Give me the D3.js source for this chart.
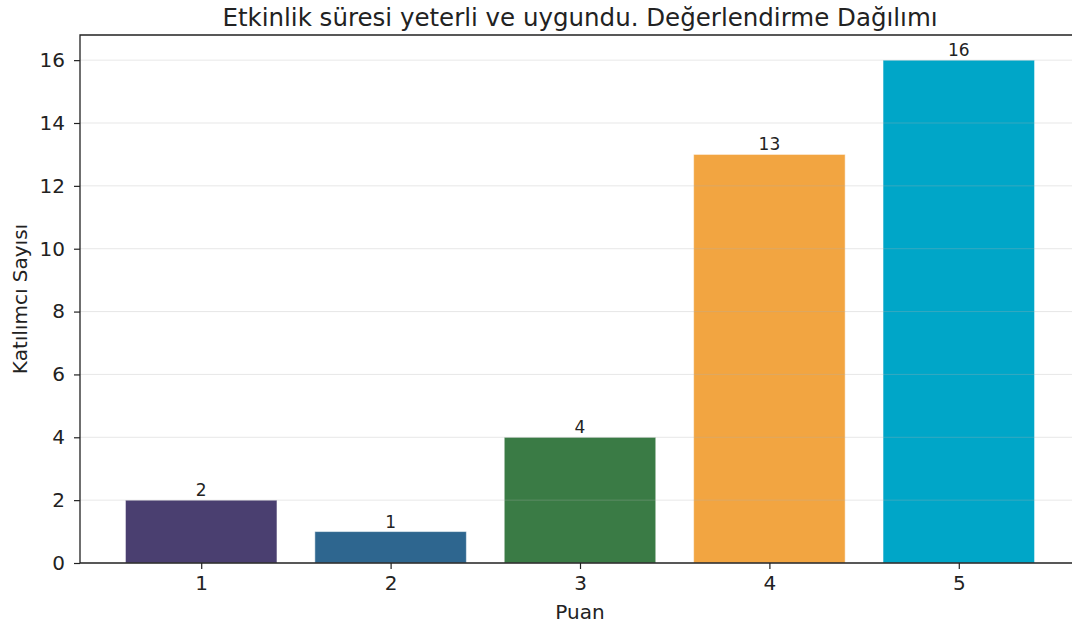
<!DOCTYPE html>
<html>
<head>
<meta charset="utf-8">
<script src="https://cdn.jsdelivr.net/npm/d3@7"></script>
<style>
  body { margin: 0; background: #fff; }
  svg { font-family: "DejaVu Sans", sans-serif; }
</style>
</head>
<body>
<div id="chart"></div>
<script>
// Data
const categories = ["1", "2", "3", "4", "5"];
const counts = [2, 1, 4, 13, 16];
const barColors = ["#4a3f70", "#2e668f", "#3a7b45", "#f2a541", "#00a6c8"];
const yTicks = [0, 2, 4, 6, 8, 10, 12, 14, 16];

const width = 1072;
const height = 627;
const margin = { left: 80, top: 35, right: -8, bottom: 64 };

const svg = d3.select("#chart").append("svg")
    .attr("width", width)
    .attr("height", height);

const plotRight = width - margin.right;
const plotBottom = height - margin.bottom;

const x = d3.scaleLinear()
    .domain([-0.64, categories.length - 1 + 0.64])
    .range([margin.left, plotRight]);

const y = d3.scaleLinear()
    .domain([0, d3.max(counts) * 1.05])
    .range([plotBottom, margin.top]);

const barW = x(0.8) - x(0);

// Bars
svg.append("g")
    .selectAll("rect")
    .data(counts)
    .join("rect")
    .attr("x", (d, i) => x(i) - barW / 2)
    .attr("y", d => y(d))
    .attr("width", barW)
    .attr("height", d => y(0) - y(d))
    .attr("fill", (d, i) => barColors[i])
    .attr("stroke", "#ffffff")
    .attr("stroke-opacity", 0.5)
    .attr("stroke-width", 1);

// Grid (drawn over bars, faint)
svg.append("g")
    .selectAll("line")
    .data(yTicks.filter(t => t > 0))
    .join("line")
    .attr("x1", margin.left)
    .attr("x2", plotRight)
    .attr("y1", d => y(d))
    .attr("y2", d => y(d))
    .attr("stroke", "#b0b0b0")
    .attr("stroke-opacity", 0.3)
    .attr("stroke-width", 1);

// Value labels
svg.append("g")
    .selectAll("text")
    .data(counts)
    .join("text")
    .attr("x", (d, i) => x(i))
    .attr("y", d => y(d) - 4)
    .attr("text-anchor", "middle")
    .attr("font-size", "17px")
    .attr("fill", "#222")
    .text(d => d);

// Axes
const yAxis = svg.append("g")
    .attr("transform", `translate(${margin.left},0)`)
    .call(d3.axisLeft(y).tickValues(yTicks).tickSize(6).tickPadding(9));

const xAxis = svg.append("g")
    .attr("transform", `translate(0,${plotBottom})`)
    .call(d3.axisBottom(x).tickValues(d3.range(categories.length))
        .tickFormat(i => categories[i]).tickSize(6).tickPadding(7));

[xAxis, yAxis].forEach(a => {
    a.select(".domain").remove();
    a.selectAll("text").attr("font-size", "20px").attr("fill", "#222").attr("font-family", "DejaVu Sans");
    a.selectAll("line").attr("stroke", "#222").attr("stroke-width", 1.2);
});

// Spines (left, bottom, top)
svg.append("path")
    .attr("d", `M${plotRight},${margin.top}H${margin.left}V${plotBottom}H${plotRight}`)
    .attr("fill", "none")
    .attr("stroke", "#222")
    .attr("stroke-width", 1.3);

// Title and axis labels
svg.append("text")
    .attr("x", (margin.left + plotRight) / 2)
    .attr("y", 26)
    .attr("text-anchor", "middle")
    .attr("font-size", "24.5px")
    .attr("fill", "#222")
    .text("Etkinlik süresi yeterli ve uygundu. Değerlendirme Dağılımı");

svg.append("text")
    .attr("x", (margin.left + plotRight) / 2)
    .attr("y", 619)
    .attr("text-anchor", "middle")
    .attr("font-size", "20px")
    .attr("fill", "#222")
    .text("Puan");

svg.append("text")
    .attr("transform", `translate(27,${(margin.top + plotBottom) / 2}) rotate(-90)`)
    .attr("text-anchor", "middle")
    .attr("font-size", "20px")
    .attr("fill", "#222")
    .text("Katılımcı Sayısı");
</script>
</body>
</html>
